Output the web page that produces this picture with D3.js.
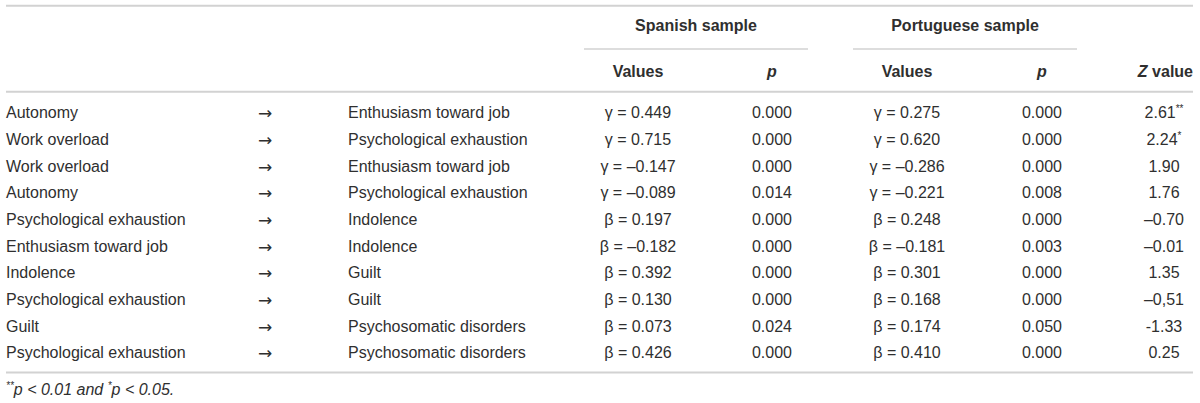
<!DOCTYPE html>
<html><head><meta charset="utf-8">
<script src="https://cdn.jsdelivr.net/npm/d3@7/dist/d3.min.js"></script>
<style>
html,body{margin:0;padding:0;background:#fff;}
svg{display:block;font-family:"Liberation Sans",Arial,Helvetica,sans-serif;}
</style></head>
<body><svg id="c" width="1200" height="403"></svg>
<script>
const fromVars = ["Autonomy","Work overload","Work overload","Autonomy","Psychological exhaustion","Enthusiasm toward job","Indolence","Psychological exhaustion","Guilt","Psychological exhaustion"];
const toVars = ["Enthusiasm toward job","Psychological exhaustion","Enthusiasm toward job","Psychological exhaustion","Indolence","Indolence","Guilt","Guilt","Psychosomatic disorders","Psychosomatic disorders"];
const coefSymbols = ["γ","γ","γ","γ","β","β","β","β","β","β"];
const spanishValues = [0.449,0.715,-0.147,-0.089,0.197,-0.182,0.392,0.130,0.073,0.426];
const spanishP = ["0.000","0.000","0.000","0.014","0.000","0.000","0.000","0.000","0.024","0.000"];
const portugueseValues = [0.275,0.620,-0.286,-0.221,0.248,-0.181,0.301,0.168,0.174,0.410];
const portugueseP = ["0.000","0.000","0.000","0.008","0.000","0.003","0.000","0.000","0.050","0.000"];
const zValues = ["2.61","2.24","1.90","1.76","\u20130.70","\u20130.01","1.35","\u20130,51","-1.33","0.25"];
const zStars = ["**","*","","","","","","","",""];
const groupHeaders = ["Spanish sample","Portuguese sample"];

const svg = d3.select("#c");
const textColor = "#2f2f2f", lineColor = "#d2d2d2";
const fs = 16;

const y = d3.scalePoint().domain(d3.range(fromVars.length)).range([112.7, 352.7]);
const colX = {from:6, arrow:265, to:348, sv:638, sp:772, pv:907, pp:1042, z:1164};
const L = 6, R = 1193;

const fmt = v => (v < 0 ? "\u2013" : "") + d3.format(".3f")(Math.abs(v));

// rules
const hline = (y0, x1, x2, w) => svg.append("line").attr("x1",x1).attr("x2",x2).attr("y1",y0).attr("y2",y0)
  .attr("stroke",lineColor).attr("stroke-width",w);
hline(5.7, L, R, 2);
hline(49, 584, 808, 1.6);
hline(49, 853, 1077, 1.6);
hline(91.7, L, R, 2);
hline(372.5, L, R, 2);

// group headers
const gh = [696, 965];
svg.selectAll("text.gh").data(groupHeaders).join("text").attr("class","gh")
  .attr("x",(d,i)=>gh[i]).attr("y",31).attr("text-anchor","middle")
  .attr("font-size",fs).attr("font-weight","bold").attr("fill",textColor).text(d=>d);

// sub headers
const sub = [[colX.sv,"Values",false],[colX.sp,"p",true],[colX.pv,"Values",false],[colX.pp,"p",true]];
sub.forEach(([x,t,it])=>{
  svg.append("text").attr("x",x).attr("y",77).attr("text-anchor","middle").attr("font-size",fs)
    .attr("font-weight","bold").attr("font-style",it?"italic":"normal").attr("fill",textColor).text(t);
});
const zh = svg.append("text").attr("x",R).attr("y",77).attr("text-anchor","end").attr("font-size",fs)
  .attr("font-weight","bold").attr("fill",textColor);
zh.append("tspan").attr("font-style","italic").text("Z");
zh.append("tspan").text(" value");

// rows
const rows = svg.selectAll("g.row").data(d3.range(fromVars.length)).join("g").attr("class","row")
  .attr("transform",i=>`translate(0,${y(i)+5.7})`)
  .attr("font-size",fs).attr("fill",textColor);
rows.append("text").attr("x",colX.from).text(i=>fromVars[i]);
rows.append("text").attr("x",colX.arrow).attr("text-anchor","middle").attr("font-family","DejaVu Sans")
  .attr("font-size",17).attr("dy",1).text("\u2192");
rows.append("text").attr("x",colX.to).text(i=>toVars[i]);
rows.append("text").attr("x",colX.sv).attr("text-anchor","middle").text(i=>`${coefSymbols[i]} = ${fmt(spanishValues[i])}`);
rows.append("text").attr("x",colX.sp).attr("text-anchor","middle").text(i=>spanishP[i]);
rows.append("text").attr("x",colX.pv).attr("text-anchor","middle").text(i=>`${coefSymbols[i]} = ${fmt(portugueseValues[i])}`);
rows.append("text").attr("x",colX.pp).attr("text-anchor","middle").text(i=>portugueseP[i]);
const zt = rows.append("text").attr("x",colX.z).attr("text-anchor","middle");
zt.append("tspan").text(i=>zValues[i]);
zt.append("tspan").attr("font-size",10).attr("dy",-6).text(i=>zStars[i]);

// footnote
const fn = svg.append("text").attr("x",L).attr("y",394.5).attr("font-size",16).attr("font-style","italic").attr("fill",textColor);
fn.append("tspan").attr("font-size",10).attr("dy",-6).text("**");
fn.append("tspan").attr("dy",6).text("p < 0.01 and ");
fn.append("tspan").attr("font-size",10).attr("dy",-6).text("*");
fn.append("tspan").attr("dy",6).text("p < 0.05.");
</script></body></html>
